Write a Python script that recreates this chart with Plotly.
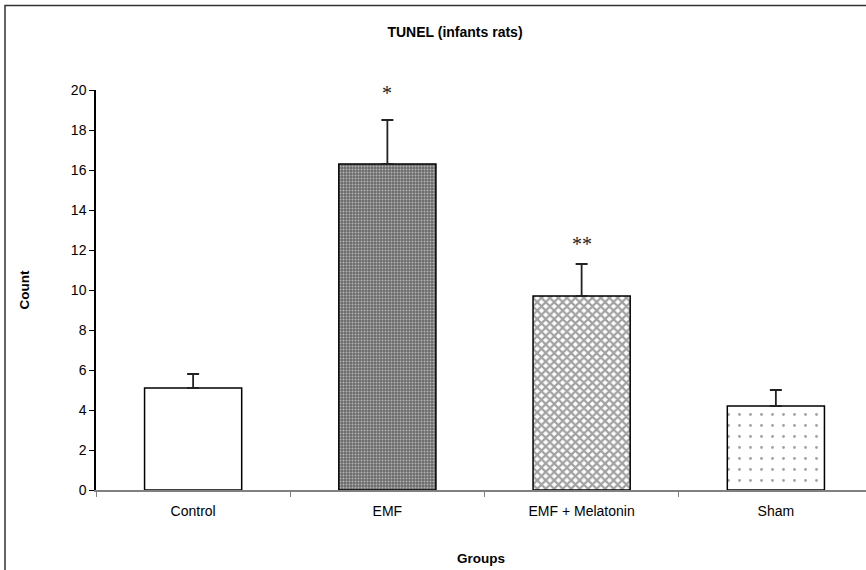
import plotly.graph_objects as go

groups = ["Control", "EMF", "EMF + Melatonin", "Sham"]
means = [5.1, 16.3, 9.7, 4.2]
errors = [0.7, 2.2, 1.6, 0.8]
signif = ["", "*", "**", ""]
signif_y = [0, 19.85, 12.3, 0]

fig = go.Figure()
fig.add_trace(go.Bar(
    x=groups, y=means, width=0.5,
    marker=dict(
        color=["white", "#6a6a6a", "white", "white"],
        line=dict(color="black", width=1.5),
        pattern=dict(
            shape=["", ".", "x", "."],
            fgcolor=["black", "#cfcfcf", "#333333", "#222222"],
            bgcolor=["white", "#5e5e5e", "white", "white"],
            size=[8, 3, 6, 11],
            solidity=[0.1, 0.35, 0.6, 0.05],
        ),
    ),
    error_y=dict(type="data", symmetric=False, array=errors,
                 arrayminus=[0, 0, 0, 0], color="#222222",
                 thickness=1.8, width=6),
    showlegend=False,
))

for g, s, sy in zip(groups, signif, signif_y):
    if s:
        fig.add_annotation(x=g, y=sy, text=s, showarrow=False,
                           font=dict(family="Liberation Serif", size=20, color="#222"),
                           yanchor="middle")

PW, PH = 770, 400
# outer frame (left and top edges)
fx = -91 / PW
fy = (PH + 84.5) / PH
fig.add_shape(type="path", xref="paper", yref="paper",
              path=f"M {fx} {-80/PH} L {fx} {fy} L 1.0 {fy}",
              line=dict(color="#333", width=1.5))

fig.update_layout(
    width=866, height=570,
    margin=dict(l=96, r=0, t=90, b=80),
    paper_bgcolor="white", plot_bgcolor="white",
    font=dict(family="Liberation Sans, Arial", size=14, color="black"),
    title=dict(text="<b>TUNEL (infants rats)</b>", x=455/866, xanchor="center",
               y=1 - 32/570, yanchor="middle", font=dict(size=14)),
    bargap=0.5,
)
fig.update_xaxes(
    type="category", range=[-0.5, 3.5 - 7/194.3],
    showline=True, linecolor="#808080", linewidth=1.5,
    ticks="outside", tickson="boundaries", ticklen=5, tickcolor="#808080",
    ticklabelstandoff=7,
    showgrid=False, zeroline=False,
    title=dict(text="<b>Groups</b>", font=dict(size=13.5), standoff=36),
)
fig.update_yaxes(
    range=[0, 20], dtick=2, showline=True, linecolor="black", linewidth=1.5,
    ticks="outside", ticklen=5, tickcolor="black", showgrid=False, zeroline=False,
    title=dict(text="<b>Count</b>", font=dict(size=13.5), standoff=38),
)

fig.write_html("out.html", config={"displayModeBar": False},
               post_script="document.body.style.margin='0px';")
